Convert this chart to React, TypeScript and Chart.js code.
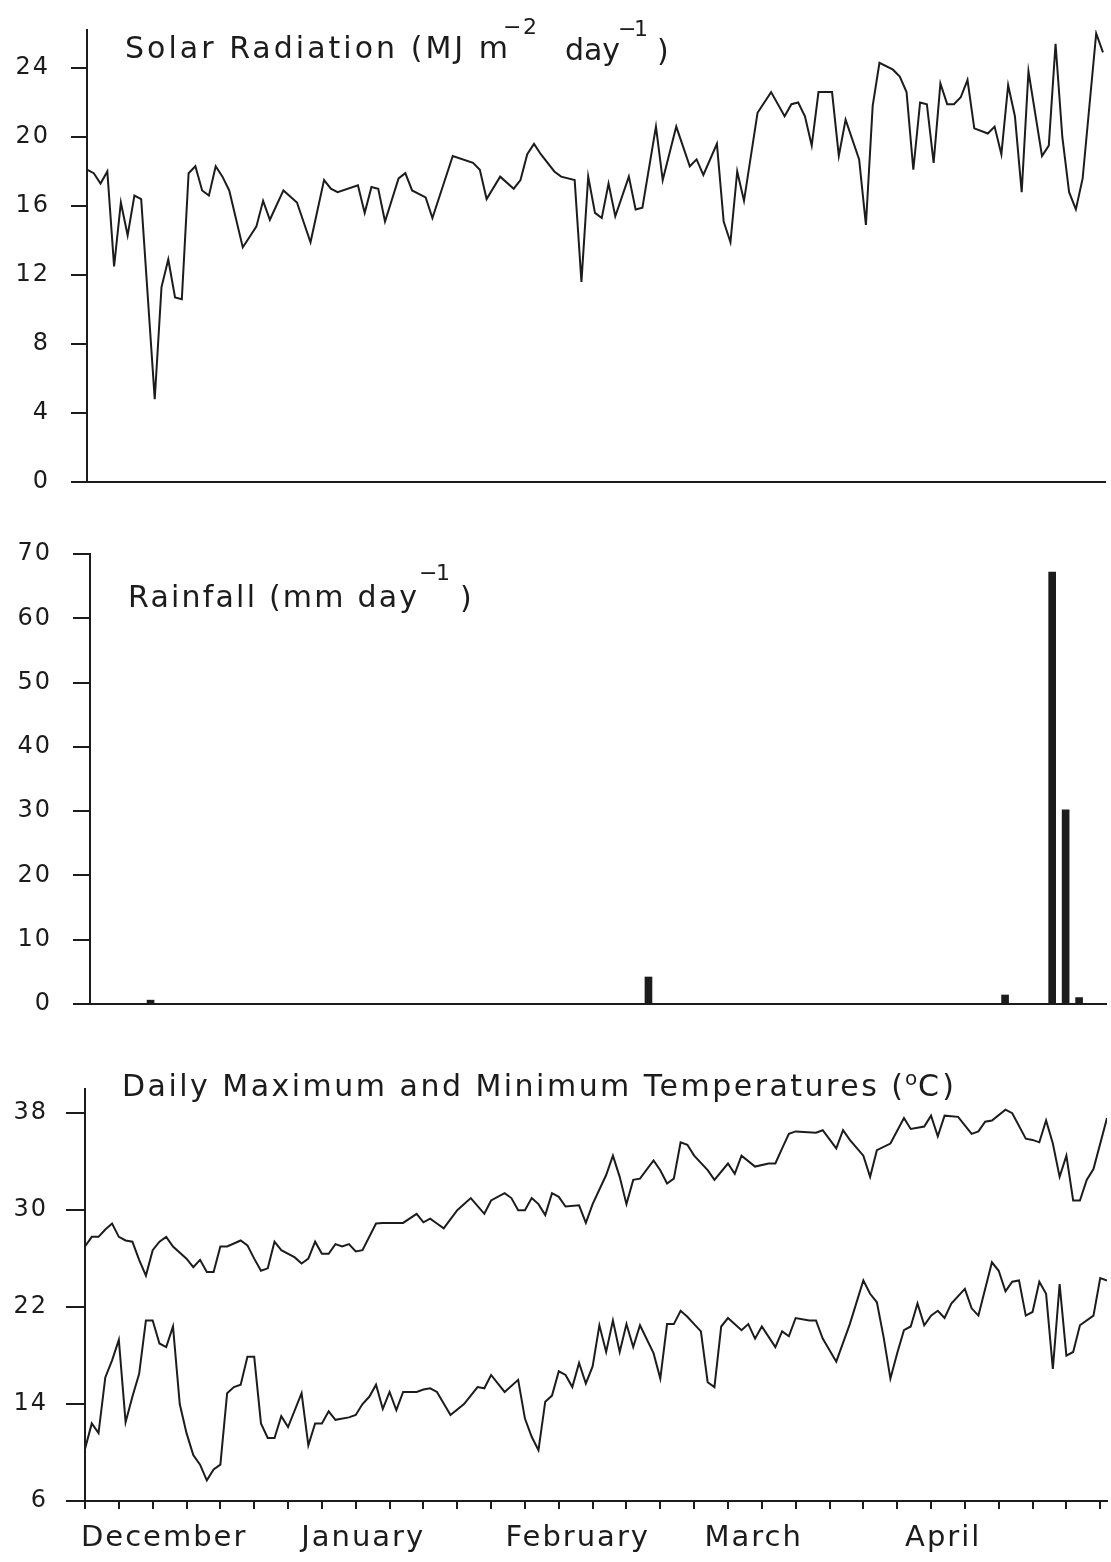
import { useEffect, useRef } from 'react';
import { Chart, registerables } from 'chart.js';

Chart.register(...registerables);

// Day index counts from 1 December (0) to 30 April.
// Solar radiation (MJ m-2 day-1)
const solarDays = [
  0, 1, 2, 3, 4, 5, 6, 7, 8, 10, 11, 12, 13, 14, 15, 16, 17, 18, 19, 20, 21, 23, 24, 25, 26, 27, 29, 31, 33, 35,
  36, 37, 40, 41, 42, 43, 44, 46, 47, 48, 50, 51, 54, 57, 58, 59, 61, 63, 64, 65, 66, 67, 69, 70, 72, 73, 74, 75,
  76, 77, 78, 80, 81, 82, 84, 85, 87, 89, 90, 91, 93, 94, 95, 96, 97, 99, 101, 103, 104, 105, 106, 107, 108, 110,
  111, 112, 114, 115, 116, 117, 119, 120, 121, 122, 123, 124, 125, 126, 127, 128, 129, 130, 131, 133, 134, 135,
  136, 137, 138, 139, 141, 142, 143, 144, 145, 146, 147, 149, 150,
];
const solarValues = [
  18.1, 17.9, 17.3, 18.0, 12.5, 16.2, 14.3, 16.6, 16.4, 4.8, 11.3, 12.9, 10.7, 10.6, 17.9, 18.3, 16.9, 16.6, 18.3,
  17.7, 16.9, 13.6, 14.2, 14.8, 16.3, 15.2, 16.9, 16.2, 13.9, 17.5, 17.0, 16.8, 17.2, 15.6, 17.1, 17.0, 15.1, 17.6,
  17.9, 16.9, 16.5, 15.3, 18.9, 18.5, 18.1, 16.4, 17.7, 17.0, 17.5, 19.0, 19.6, 19.0, 18.0, 17.7, 17.5, 11.6, 17.7,
  15.6, 15.3, 17.3, 15.4, 17.7, 15.8, 15.9, 20.6, 17.5, 20.6, 18.3, 18.7, 17.8, 19.6, 15.1, 13.9, 18.0, 16.3, 21.4,
  22.6, 21.2, 21.9, 22.0, 21.2, 19.5, 22.6, 22.6, 18.9, 21.0, 18.7, 14.9, 21.8, 24.3, 23.9, 23.5, 22.6, 18.1, 22.0,
  21.9, 18.5, 23.1, 21.9, 21.9, 22.3, 23.3, 20.5, 20.2, 20.6, 19.0, 23.0, 21.2, 16.8, 23.8, 18.9, 19.5, 25.4, 20.0,
  16.8, 15.8, 17.6, 26.0, 24.9,
];

// Rainfall (mm day-1)
const rainDays = [9, 83, 136, 143, 145, 147];
const rainValues = [0.6, 4.2, 1.4, 67.2, 30.2, 1.0];

// Daily maximum temperature (°C)
const tmaxDays = [
  0, 1, 2, 3, 4, 5, 6, 7, 8, 9, 10, 11, 12, 13, 15, 16, 17, 18, 19, 20, 21, 23, 24, 25, 26, 27, 28, 29, 31, 32, 33,
  34, 35, 36, 37, 38, 39, 40, 41, 43, 44, 47, 49, 50, 51, 52, 53, 55, 57, 59, 60, 62, 63, 64, 65, 66, 67, 68, 69,
  70, 71, 73, 74, 75, 77, 78, 79, 80, 81, 82, 84, 85, 86, 87, 88, 89, 90, 92, 93, 95, 96, 97, 99, 101, 102, 103,
  104, 105, 108, 109, 111, 112, 113, 115, 116, 117, 119, 121, 122, 124, 125, 126, 127, 129, 131, 132, 133, 134,
  136, 137, 139, 140, 141, 142, 143, 144, 145, 146, 147, 148, 149, 151,
];
const tmaxValues = [
  27.0, 27.8, 27.8, 28.4, 28.9, 27.8, 27.5, 27.4, 25.9, 24.6, 26.7, 27.4, 27.8, 27.0, 26.0, 25.3, 25.9, 24.9, 24.9,
  27.0, 27.0, 27.5, 27.1, 26.0, 25.0, 25.2, 27.4, 26.7, 26.1, 25.6, 26.0, 27.4, 26.4, 26.4, 27.2, 27.0, 27.2, 26.6,
  26.7, 28.9, 28.95, 28.95, 29.7, 29.0, 29.3, 28.9, 28.5, 30.0, 31.0, 29.7, 30.8, 31.4, 31.0, 30.0, 30.0, 31.0,
  30.5, 29.6, 31.4, 31.1, 30.3, 30.4, 28.95, 30.5, 32.9, 34.5, 32.75, 30.5, 32.5, 32.6, 34.1, 33.3, 32.2, 32.6,
  35.6, 35.4, 34.5, 33.3, 32.5, 33.85, 33.0, 34.5, 33.6, 33.85, 33.85, 35.1, 36.3, 36.5, 36.4, 36.6, 35.1, 36.6,
  35.8, 34.5, 32.75, 34.95, 35.5, 37.6, 36.7, 36.9, 37.8, 36.1, 37.8, 37.7, 36.3, 36.5, 37.3, 37.4, 38.3, 38.0,
  35.9, 35.8, 35.6, 37.4, 35.5, 32.75, 34.5, 30.8, 30.8, 32.5, 33.4, 37.6,
];

// Daily minimum temperature (°C)
const tminDays = [
  0, 1, 2, 3, 4, 5, 6, 7, 8, 9, 10, 11, 12, 13, 14, 15, 16, 17, 18, 19, 20, 21, 22, 23, 24, 25, 26, 27, 28, 29, 30,
  32, 33, 34, 35, 36, 37, 39, 40, 41, 42, 43, 44, 45, 46, 47, 49, 50, 51, 52, 54, 56, 58, 59, 60, 62, 64, 65, 66,
  67, 68, 69, 70, 71, 72, 73, 74, 75, 76, 77, 78, 79, 80, 81, 82, 84, 85, 86, 87, 88, 89, 90, 91, 92, 93, 94, 95,
  97, 98, 99, 100, 102, 103, 104, 105, 107, 108, 109, 111, 113, 115, 116, 117, 118, 119, 120, 121, 122, 123, 124,
  125, 126, 127, 128, 130, 131, 132, 134, 135, 136, 137, 138, 139, 140, 141, 142, 143, 144, 145, 146, 147, 149,
  150, 151,
];
const tminValues = [
  10.3, 12.4, 11.6, 16.2, 17.6, 19.3, 12.5, 14.6, 16.5, 20.9, 20.9, 19.0, 18.7, 20.4, 14.0, 11.6, 9.8, 9.0, 7.7,
  8.6, 9.0, 14.9, 15.4, 15.6, 17.9, 17.9, 12.4, 11.2, 11.2, 13.0, 12.1, 14.9, 10.6, 12.4, 12.4, 13.4, 12.7, 12.9,
  13.1, 14.0, 14.6, 15.6, 13.6, 15.0, 13.5, 15.0, 15.0, 15.2, 15.3, 15.0, 13.1, 14.0, 15.4, 15.3, 16.4, 15.0, 16.0,
  12.8, 11.3, 10.2, 14.2, 14.7, 16.7, 16.4, 15.4, 17.4, 15.7, 17.1, 20.5, 18.3, 20.9, 18.3, 20.6, 18.7, 20.5, 18.2,
  16.1, 20.6, 20.6, 21.7, 21.2, 20.6, 20.0, 15.8, 15.4, 20.4, 21.1, 20.1, 20.6, 19.4, 20.4, 18.7, 20.0, 19.6, 21.1,
  20.9, 20.9, 19.4, 17.5, 20.6, 24.2, 23.1, 22.4, 19.5, 16.1, 18.2, 20.1, 20.4, 22.3, 20.5, 21.3, 21.7, 21.1, 22.3,
  23.5, 21.9, 21.3, 25.7, 25.0, 23.3, 24.1, 24.2, 21.3, 21.6, 24.1, 23.1, 16.9, 23.9, 18.0, 18.3, 20.5, 21.3, 24.4,
  24.2,
];

// Axis ticks and labels
const solarTicks = [0, 4, 8, 12, 16, 20, 24];
const rainTicks = [0, 10, 20, 30, 40, 50, 60, 70];
const tempTicks = [6, 14, 22, 30, 38];
const dayTicks = Array.from({ length: 31 }, (_, i) => i * 5);
const monthLabels = ['December', 'January', 'February', 'March', 'April'];
const monthLabelDays = [11.7, 41.1, 72.8, 98.8, 126.8];

const INK = '#1c1c1c';
const FAMILY = '"DejaVu Sans", "Liberation Sans", sans-serif';
const WEIGHT = 'normal';

type Piece = { text: string; x0: number; x1: number; base: number; size: number };

// Draws a heading made of pieces (text plus superscripts), each stretched to its span.
function headingPlugin(pieces: Piece[]) {
  return {
    id: 'panelHeading',
    beforeDraw(chart: any) {
      chart.ctx.letterSpacing = '2px';
    },
    afterDraw(chart: any) {
      const ctx = chart.ctx;
      ctx.save();
      ctx.fillStyle = INK;
      ctx.textAlign = 'left';
      ctx.textBaseline = 'alphabetic';
      for (const p of pieces) {
        ctx.font = `${WEIGHT} ${p.size}px ${FAMILY}`;
        ctx.letterSpacing = '0px';
        const n = Array.from(p.text).length;
        const w = ctx.measureText(p.text).width;
        const ls = n > 1 ? (p.x1 - p.x0 - w) / (n - 1) : 0;
        ctx.letterSpacing = `${ls}px`;
        ctx.fillText(p.text, p.x0, p.base);
      }
      ctx.restore();
      ctx.letterSpacing = '0px';
    },
  };
}

function yAxis(values: number[], min: number, max: number, width: number, tickLen: number, pad: number) {
  return {
    type: 'linear',
    position: 'left',
    min,
    max,
    afterBuildTicks: (s: any) => {
      s.ticks = values.map((v) => ({ value: v }));
    },
    afterFit: (s: any) => {
      s.width = width;
    },
    grid: { drawOnChartArea: false, drawTicks: true, tickLength: tickLen, color: INK, lineWidth: 2 },
    border: { display: true, color: INK, width: 2 },
    ticks: {
      color: INK,
      font: { family: FAMILY, size: 24, weight: WEIGHT },
      padding: pad,
      autoSkip: false,
      callback: (v: number) => String(v),
    },
  };
}

function plainXAxis(max: number) {
  return {
    type: 'linear',
    position: 'bottom',
    min: 0,
    max,
    offset: false,
    grid: { display: false, drawTicks: false, offset: false },
    border: { display: true, color: INK, width: 2 },
    ticks: { display: false },
    afterFit: (s: any) => {
      s.height = 0;
    },
  };
}

const common = {
  responsive: false,
  animation: false,
  events: [],
  plugins: { legend: { display: false }, tooltip: { enabled: false } },
};

// Canvas placement on the page
const SOLAR_TOP = -10;
const RAIN_TOP = 500;
const TEMP_TOP = 1040;

export default function App() {
  const solarRef = useRef<HTMLCanvasElement>(null);
  const rainRef = useRef<HTMLCanvasElement>(null);
  const tempRef = useRef<HTMLCanvasElement>(null);

  useEffect(() => {
    const lineStyle = { borderColor: INK, borderWidth: 2, pointRadius: 0, tension: 0, fill: false };

    const solar = new Chart(solarRef.current as HTMLCanvasElement, {
      type: 'line',
      data: {
        datasets: [
          {
            label: 'Solar radiation',
            data: solarDays.map((d, i) => ({ x: d, y: solarValues[i] })),
            ...lineStyle,
          },
        ],
      },
      options: {
        ...common,
        layout: { padding: { top: 40, right: 6, bottom: 38, left: 0 } },
        scales: {
          x: plainXAxis(150.3),
          y: yAxis(solarTicks, 0, 26.2, 87, 16, 21),
        },
      } as any,
      plugins: [
        headingPlugin([
          { text: 'Solar Radiation (MJ m', x0: 125, x1: 508, base: 58 - SOLAR_TOP, size: 30 },
          { text: '\u22122', x0: 503, x1: 537, base: 34 - SOLAR_TOP, size: 22 },
          { text: 'day', x0: 565, x1: 620, base: 60 - SOLAR_TOP, size: 30 },
          { text: '\u22121', x0: 618, x1: 648, base: 36 - SOLAR_TOP, size: 22 },
          { text: ')', x0: 657, x1: 668, base: 61 - SOLAR_TOP, size: 30 },
        ]),
      ],
    });

    const rain = new Chart(rainRef.current as HTMLCanvasElement, {
      type: 'bar',
      data: {
        datasets: [
          {
            label: 'Rainfall',
            data: rainDays.map((d, i) => ({ x: d, y: rainValues[i] })),
            backgroundColor: INK,
            borderWidth: 0,
            barThickness: 7,
          },
        ],
      },
      options: {
        ...common,
        layout: { padding: { top: 54, right: 5, bottom: 36, left: 0 } },
        scales: {
          x: plainXAxis(151),
          y: yAxis(rainTicks, 0, 70, 90, 17, 21),
        },
      } as any,
      plugins: [
        headingPlugin([
          { text: 'Rainfall (mm day', x0: 128, x1: 417, base: 607 - RAIN_TOP, size: 30 },
          { text: '\u22121', x0: 419, x1: 450, base: 580 - RAIN_TOP, size: 22 },
          { text: ')', x0: 460, x1: 471, base: 608 - RAIN_TOP, size: 30 },
        ]),
      ],
    });

    const temp = new Chart(tempRef.current as HTMLCanvasElement, {
      type: 'line',
      data: {
        datasets: [
          {
            label: 'Maximum',
            data: tmaxDays.map((d, i) => ({ x: d, y: tmaxValues[i] })),
            ...lineStyle,
          },
          {
            label: 'Minimum',
            data: tminDays.map((d, i) => ({ x: d, y: tminValues[i] })),
            ...lineStyle,
          },
        ],
      },
      options: {
        ...common,
        layout: { padding: { top: 49, right: 4, bottom: 0, left: 0 } },
        scales: {
          x: {
            type: 'linear',
            position: 'bottom',
            min: 0,
            max: 151,
            offset: false,
            afterBuildTicks: (s: any) => {
              s.ticks = dayTicks.map((v) => ({ value: v }));
            },
            afterFit: (s: any) => {
              s.height = 8;
            },
            grid: { drawOnChartArea: false, drawTicks: true, tickLength: 8, color: INK, lineWidth: 2, offset: false },
            border: { display: true, color: INK, width: 2 },
            ticks: { display: false, autoSkip: false },
          },
          months: {
            type: 'linear',
            position: 'bottom',
            min: 0,
            max: 151,
            offset: false,
            afterBuildTicks: (s: any) => {
              s.ticks = monthLabelDays.map((v) => ({ value: v }));
            },
            afterFit: (s: any) => {
              s.height = 53;
            },
            grid: { display: false, drawTicks: false },
            border: { display: false },
            ticks: {
              color: INK,
              autoSkip: false,
              maxRotation: 0,
              padding: 12,
              font: { family: FAMILY, size: 29, weight: WEIGHT },
              callback: (_v: number, i: number) => monthLabels[i],
            },
          },
          y: yAxis(tempTicks, 6, 40, 85, 19, 18),
        },
      } as any,
      plugins: [
        headingPlugin([
          { text: 'Daily Maximum and Minimum Temperatures (', x0: 122, x1: 903, base: 1096 - TEMP_TOP, size: 30 },
          { text: 'o', x0: 905, x1: 917, base: 1085 - TEMP_TOP, size: 20 },
          { text: 'C)', x0: 918, x1: 954, base: 1096 - TEMP_TOP, size: 30 },
        ]),
      ],
    });

    return () => {
      solar.destroy();
      rain.destroy();
      temp.destroy();
    };
  }, []);

  return (
    <div style={{ position: 'absolute', left: 0, top: 0, width: 1111, height: 1562, background: '#fff' }}>
      <canvas ref={solarRef} width={1111} height={530} style={{ position: 'absolute', left: 0, top: SOLAR_TOP }} />
      <canvas ref={rainRef} width={1111} height={540} style={{ position: 'absolute', left: 0, top: RAIN_TOP }} />
      <canvas ref={tempRef} width={1111} height={522} style={{ position: 'absolute', left: 0, top: TEMP_TOP }} />
    </div>
  );
}
